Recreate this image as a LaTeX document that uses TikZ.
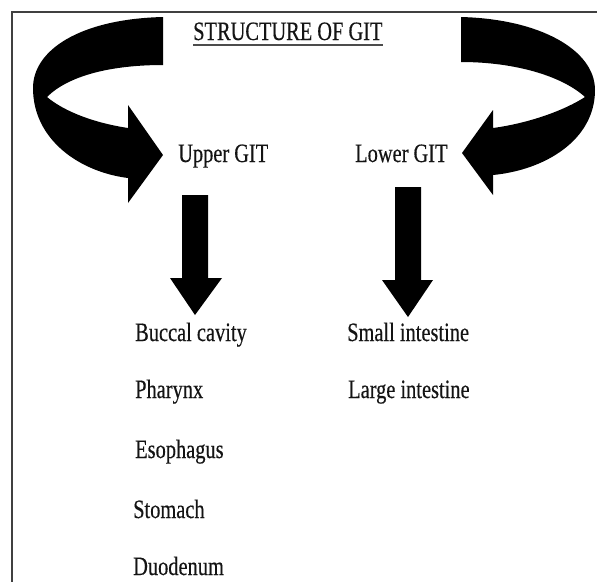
\documentclass[tikz,border=0pt]{standalone}
\usepackage{fontspec}
\setmainfont{Liberation Serif}[FakeStretch=0.77,FakeBold=0.35]
\begin{document}
\begin{tikzpicture}[x=1pt,y=-1pt,
  lbl/.style={anchor=base west,inner sep=0pt,font=\fontsize{26.5}{30}\selectfont,text=black!92},
  blk/.style={fill=black,draw=none}]
\useasboundingbox (0,0) rectangle (597,582);
\fill[white] (0,0) rectangle (597,582);
% frame (top and left edges)
\draw[line width=2pt,black!75] (597,12) -- (12,12) -- (12,582);
% title
\node[lbl] (title) at (193,40) {STRUCTURE OF GIT};
\draw[line width=1.5pt,black!70] ([yshift=-5pt]title.base west) -- ([yshift=-5pt]title.base east);
% headings
\node[lbl] (upper) at (178,162) {Upper GIT};
\node[lbl] (lower) at (355,162) {Lower GIT};
% lists
\node[lbl] (b1) at (135,341) {Buccal cavity};
\node[lbl] (b2) at (135,398) {Pharynx};
\node[lbl] (b3) at (135,458) {Esophagus};
\node[lbl] (b4) at (133,518) {Stomach};
\node[lbl] (b5) at (133,575) {Duodenum};
\node[lbl] (s1) at (347,341) {Small intestine};
\node[lbl] (s2) at (348,398) {Large intestine};
% left curved arrow
\fill[blk] (163,17) .. controls (80,19) and (33,50) .. (33,88)
  .. controls (33,140) and (80,172) .. (128,178)
  -- (128,203) -- (163,155) -- (128,105) -- (128,128)
  .. controls (95,123) and (65,112) .. (47,97)
  .. controls (68,76) and (110,65) .. (163,65) -- cycle;
% right curved arrow
\fill[blk] (461,17) .. controls (540,19) and (595,50) .. (595,90)
  .. controls (595,140) and (545,170) .. (493,175)
  -- (493,195) -- (462,153) -- (493,110) -- (493,128)
  .. controls (530,123) and (565,110) .. (585,97)
  .. controls (562,76) and (515,62) .. (461,62) -- cycle;
% down arrows
\fill[blk] (182,195) -- (208,195) -- (208,278) -- (222,278) -- (195,315)
  -- (170,278) -- (182,278) -- cycle;
\fill[blk] (395,187) -- (421,187) -- (421,280) -- (433,280) -- (408,317)
  -- (382,280) -- (395,280) -- cycle;
\end{tikzpicture}
\end{document}
